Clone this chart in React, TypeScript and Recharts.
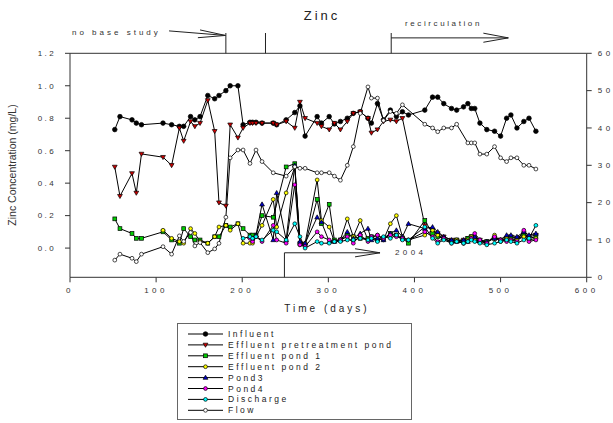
import React from 'react';
import { ComposedChart, Line, XAxis, YAxis, ReferenceLine, Legend } from 'recharts';

const FONT = '"Liberation Sans", Arial, sans-serif';

const days = [52,58,72,77,83,108,118,127,132,140,145,151,160,168,173,181,186,195,201,209,212,216,223,236,240,251,261,267,273,287,292,301,307,314,322,329,337,346,350,357,364,372,379,386,393,412,421,427,434,443,449,457,462,466,470,476,484,493,500,507,512,519,527,533,541];

const influent = [.73,.81,.79,.77,.76,.77,.76,.75,.75,.81,.79,.81,.94,.92,.94,.97,1.0,1.0,.76,.775,.775,.775,.77,.77,.76,.79,.835,.876,.69,.81,.77,.81,.765,.78,.80,.83,.84,.80,.77,.89,.79,.85,.81,.84,.82,.85,.93,.93,.89,.86,.85,.87,.89,.86,.86,.77,.73,.72,.69,.80,.82,.74,.78,.80,.72];

const pretreat = [.50,.32,.46,.34,.58,.56,.51,.74,.66,.78,.75,.77,.91,.72,.28,.26,.76,.68,.74,.77,.77,.77,.77,.77,.76,.78,.74,.90,.80,.77,.75,.73,.77,.73,.78,.83,.84,.80,.71,.73,.78,.79,.78,.80,null,.14,.11,.09,.07,.05,.05,.05,.06,.07,.06,.05,.04,.06,.05,.06,.07,.06,.09,.07,.08];

const pond1 = [.18,.12,.09,.06,.06,.10,.05,.03,.12,.07,.05,.05,.03,.07,.07,.14,.13,.15,.12,.08,.08,.08,.20,.19,null,.50,.52,.03,.02,.30,.15,.27,.05,.05,.08,.07,.06,.06,.07,.05,.06,.09,.08,.06,.03,.17,.09,.07,.06,.04,.05,.04,.06,.07,.05,.04,.04,.06,.05,.06,.06,.05,.08,.06,.07];

const pond2 = [null,null,null,null,null,.11,.06,.04,.03,.12,.09,.04,.03,.07,.13,.14,.11,.15,.03,.03,.03,.07,.14,.30,.13,.34,.50,.02,.03,.42,.17,.13,.04,.05,.18,.07,.17,.05,.06,.08,.05,.15,.20,.07,.05,.08,.11,.08,.06,.04,.05,.03,.05,.07,.05,.04,.03,.08,.04,.06,.05,.05,.07,.05,.06];

const pond3 = [null,null,null,null,null,null,null,null,null,null,null,null,null,null,null,null,null,null,null,.07,.06,.08,.27,.05,.34,.05,.51,.04,.03,.19,.16,.04,.04,.05,.10,.06,.09,.12,.05,.06,.05,.09,.11,.07,.15,.12,.13,.10,.07,.05,.04,.05,.04,.06,.07,.05,.04,.06,.05,.08,.08,.07,.10,.08,.09];

const pond4 = [null,null,null,null,null,null,null,null,null,null,null,null,null,null,null,null,null,null,null,.06,.04,.07,.04,.14,.05,.03,.39,.02,.01,.10,.07,.05,.04,.05,.07,.03,.08,.04,.07,.08,.06,.08,.07,.06,.05,.10,.07,.04,.06,.03,.04,.03,.04,.06,.09,.05,.03,.07,.05,.04,.05,.04,.11,.04,.05];

const discharge = [null,null,null,null,null,null,null,null,null,null,null,null,null,null,null,null,null,null,.06,.07,.06,.07,.05,.11,.10,.05,.15,.07,.00,.04,.03,.03,.04,.04,.05,.05,.06,.05,.06,.04,.07,.06,.08,.05,.05,.13,.06,.03,.05,.03,.04,.03,.04,.05,.04,.03,.02,.03,.04,.05,.04,.03,.05,.06,.14];

const flow = [4.6,6.2,5.1,4.2,6.2,8.2,6.2,11.1,9.6,12,8.4,9.3,6.6,7.6,9.1,16.1,32,34.1,34.1,30.5,null,34.1,31,28,null,27.1,29.6,29.2,29.2,28,28,28,27.1,26,30,35,43.9,51,48,48,42,44.4,43.9,46.2,null,41,40,39,40,40,41,null,36,36,36,33,33,35,32,31,32,32,30,30,29];

const xTicks = [0, 100, 200, 300, 400, 500, 600];
const leftTicks = [0, 0.2, 0.4, 0.6, 0.8, 1.0, 1.2];
const rightTicks = [0, 10, 20, 30, 40, 50, 60];

const series = [
  { key: 'influent', name: 'Influent', fill: '#000000', shape: 'circle', axis: 'left' },
  { key: 'pretreat', name: 'Effluent pretreatment pond', fill: '#cc0000', shape: 'down', axis: 'left' },
  { key: 'pond1', name: 'Effluent pond 1', fill: '#00cc00', shape: 'square', axis: 'left' },
  { key: 'pond2', name: 'Effluent pond 2', fill: '#ffff00', shape: 'circle', axis: 'left' },
  { key: 'pond3', name: 'Pond3', fill: '#0000cc', shape: 'up', axis: 'left' },
  { key: 'pond4', name: 'Pond4', fill: '#ff00ff', shape: 'circle', axis: 'left' },
  { key: 'discharge', name: 'Discharge', fill: '#00ffff', shape: 'circle', axis: 'left' },
  { key: 'flow', name: 'Flow', fill: '#ffffff', shape: 'circle', axis: 'right' },
];

// annotation segments in data units (day, zinc mg/L on left axis)
const annotationSegments: [number, number][][] = [
  [[115, 1.338], [180.5, 1.31]],
  [[151, 1.344], [180.5, 1.31]],
  [[148.5, 1.296], [180.5, 1.31]],
  [[181, 1.325], [181, 1.2]],
  [[227, 1.325], [227, 1.2]],
  [[373, 1.325], [373, 1.2]],
  [[373, 1.295], [509, 1.295]],
  [[480, 1.324], [509, 1.295]],
  [[480, 1.268], [509, 1.295]],
  [[249, -0.18], [249, -0.029]],
  [[249, -0.029], [360, -0.029]],
  [[331, -0.004], [360, -0.029]],
  [[331, -0.054], [360, -0.029]],
];

const rows = days.map((d, i) => ({
  day: d,
  influent: influent[i],
  pretreat: pretreat[i],
  pond1: pond1[i],
  pond2: pond2[i],
  pond3: pond3[i],
  pond4: pond4[i],
  discharge: discharge[i],
  flow: flow[i],
}));

function marker(shape: string, fill: string, cx: number, cy: number, key?: string, big = false) {
  const r = big ? 2.3 : 1.9;
  if (shape === 'circle') {
    return <circle key={key} cx={cx} cy={cy} r={r} fill={fill} stroke="#000" strokeWidth={0.7} />;
  }
  if (shape === 'square') {
    return <rect key={key} x={cx - 1.9} y={cy - 1.9} width={3.8} height={3.8} fill={fill} stroke="#000" strokeWidth={0.7} />;
  }
  if (shape === 'down') {
    return <polygon key={key} points={`${cx - 2.4},${cy - 1.7} ${cx + 2.4},${cy - 1.7} ${cx},${cy + 2.4}`} fill={fill} stroke="#000" strokeWidth={0.7} />;
  }
  return <polygon key={key} points={`${cx - 2.4},${cy + 1.7} ${cx + 2.4},${cy + 1.7} ${cx},${cy - 2.4}`} fill={fill} stroke="#000" strokeWidth={0.7} />;
}

function LegendBox() {
  return (
    <svg width={236} height={98} style={{ display: 'block' }}>
      <rect x={0.5} y={0.5} width={234} height={96} fill="#fff" stroke="#666" strokeWidth={1} />
      {series.map((s, i) => {
        const y = 11 + i * 10.9;
        return (
          <g key={s.key}>
            <line x1={11} y1={y} x2={46} y2={y} stroke="#000" strokeWidth={1} />
            {marker(s.shape, s.fill, 28.5, y, undefined, s.key === 'influent')}
            <text x={51} y={y + 3} fontSize={8.5} letterSpacing={2.5} fill="#222" fontFamily={FONT}>
              {s.name}
            </text>
          </g>
        );
      })}
    </svg>
  );
}

export default function App() {
  const tickStyle = { fontSize: 8, fill: '#333', fontFamily: FONT };
  return (
    <div style={{ position: 'absolute', left: 0, top: 0, width: 613, height: 423, background: '#fff' }}>
      <ComposedChart
        width={613}
        height={423}
        data={rows}
        margin={{ top: 53.3, right: 6.3, bottom: 115.7, left: 25 }}
      >
        <XAxis
          dataKey="day"
          type="number"
          domain={[0, 600]}
          ticks={xTicks}
          interval={0}
          allowDataOverflow
          height={30}
          tickSize={5}
          tickMargin={5}
          stroke="#333"
          tick={{ ...tickStyle, letterSpacing: 3.5 }}
        />
        <YAxis
          yAxisId="left"
          domain={[-0.18, 1.2]}
          ticks={leftTicks}
          interval={0}
          allowDataOverflow
          width={45}
          tickSize={5}
          tickMargin={9}
          stroke="#333"
          tickFormatter={(v: number) => v.toFixed(1)}
          tick={{ ...tickStyle, letterSpacing: 2.4 }}
        />
        <YAxis
          yAxisId="right"
          orientation="right"
          domain={[0, 60]}
          ticks={rightTicks}
          interval={0}
          allowDataOverflow
          width={20}
          tickSize={5}
          tickMargin={6}
          stroke="#333"
          tick={{ ...tickStyle, letterSpacing: 3.5 }}
        />
        <ReferenceLine yAxisId="left" y={1.2} stroke="#333" ifOverflow="visible" />
        {annotationSegments.map((seg, i) => (
          <ReferenceLine
            key={`ann-${i}`}
            yAxisId="left"
            segment={[{ x: seg[0][0], y: seg[0][1] }, { x: seg[1][0], y: seg[1][1] }]}
            stroke="#222"
            strokeWidth={1}
            ifOverflow="visible"
          />
        ))}
        {series.map((s) => (
          <Line
            key={s.key}
            yAxisId={s.axis}
            dataKey={s.key}
            name={s.name}
            type="linear"
            stroke="#000"
            strokeWidth={1}
            connectNulls
            isAnimationActive={false}
            dot={(p: any) => {
              if (p.cx == null || p.cy == null || p.value == null || Number.isNaN(p.cy)) {
                return <g key={`${s.key}-e-${p.index}`} />;
              }
              return marker(s.shape, s.fill, p.cx, p.cy, `${s.key}-${p.index}`, s.key === 'influent');
            }}
            activeDot={false}
          />
        ))}
        <Legend
          layout="vertical"
          align="center"
          verticalAlign="middle"
          content={() => <LegendBox />}
          wrapperStyle={{ position: 'absolute', left: 177, top: 323, width: 236, height: 98 }}
        />
      </ComposedChart>
      <svg
        width={613}
        height={423}
        style={{ position: 'absolute', left: 0, top: 0, pointerEvents: 'none' }}
      >
        <text x={322} y={20} textAnchor="middle" fontSize={13} letterSpacing={3} fill="#222" fontFamily={FONT}>Zinc</text>
        <text x={72} y={35} fontSize={8} letterSpacing={3} fill="#333" fontFamily={FONT}>no base study</text>
        <text x={405} y={26} fontSize={8} letterSpacing={2.6} fill="#333" fontFamily={FONT}>recirculation</text>
        <text x={395} y={255} fontSize={8} letterSpacing={3.4} fill="#333" fontFamily={FONT}>2004</text>
        <text x={327} y={312} textAnchor="middle" fontSize={10} letterSpacing={3} fill="#222" fontFamily={FONT}>Time (days)</text>
        <text
          x={0}
          y={0}
          transform="translate(16,165) rotate(-90)"
          textAnchor="middle"
          fontSize={10.5}
          fill="#333"
          fontFamily={FONT}
        >
          Zinc Concentration (mg/L)
        </text>
      </svg>
    </div>
  );
}
